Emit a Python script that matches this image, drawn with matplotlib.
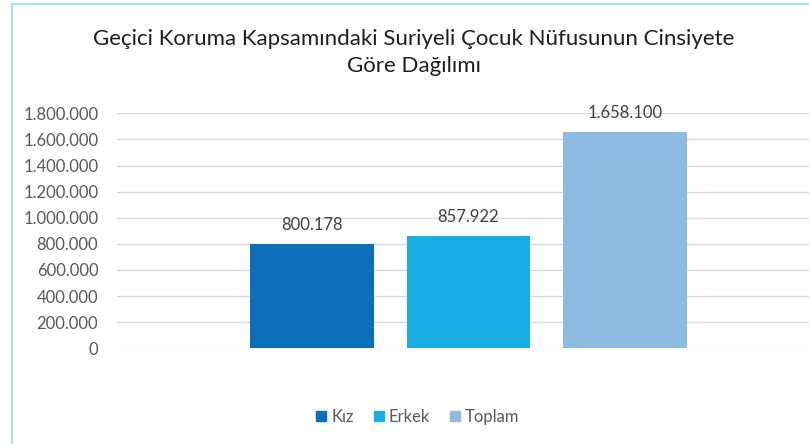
import matplotlib
matplotlib.use("Agg")
import matplotlib.pyplot as plt
from matplotlib.lines import Line2D
from matplotlib.ticker import FuncFormatter, MultipleLocator

plt.rcParams['font.family'] = ['Lato', 'DejaVu Sans']

series = ["Kız", "Erkek", "Toplam"]
values = [800178, 857922, 1658100]
colors = ["#0B6FBA", "#1BAEE5", "#8DBBE1"]
title = "Geçici Koruma Kapsamındaki Suriyeli Çocuk Nüfusunun Cinsiyete\nGöre Dağılımı"

def tr_fmt(v):
    return f"{int(round(v)):,}".replace(",", ".")

W, H = 809, 444
fig = plt.figure(figsize=(W/100, H/100), dpi=100)
fig.patch.set_facecolor("white")

ax = fig.add_axes([117/W, 1-348.3/H, 703/W, (348.3-113.3)/H])
x = [0, 1, 2]
ax.bar(x, values, width=0.786, color=colors, zorder=3)
ax.set_xlim(-1.246, 3.246)
ax.set_ylim(0, 1800000)
ax.yaxis.set_major_locator(MultipleLocator(200000))
ax.yaxis.set_major_formatter(FuncFormatter(lambda v, p: tr_fmt(v)))
ax.grid(axis='y', color="#D9D9D9", linewidth=1.0, zorder=0)
ax.set_xticks([])
for s in ax.spines.values():
    s.set_visible(False)
ax.tick_params(axis='y', length=0, pad=13.5, labelsize=12, labelcolor="#595959")

for xi, v in zip(x, values):
    ax.annotate(tr_fmt(v), (xi, v), xytext=(0, 19), textcoords='offset pixels',
                ha='center', va='center', fontsize=12, color="#404040")

fig.text(414/W, 1-52.5/H, title, ha='center', va='center', fontsize=16,
         color="#1F1F1F", linespacing=1.45)

handles = [Line2D([0], [0], marker='s', linestyle='none', markersize=7,
                  markerfacecolor=c, markeredgecolor=c) for c in colors]
fig.legend(handles, series, loc='center', bbox_to_anchor=(416/W, 1-417/H),
           ncol=3, frameon=False, fontsize=12, labelcolor="#595959",
           handletextpad=0.1, columnspacing=1.0, handlelength=1.0)

# frame lines (light cyan)
fig.add_artist(Line2D([11.5/W, 11.5/W], [0, 1-4.5/H], color="#A8E1EC", linewidth=1.5,
                      transform=fig.transFigure))
fig.add_artist(Line2D([11.5/W, 1], [1-4.5/H, 1-4.5/H], color="#A8E1EC", linewidth=1.5,
                      transform=fig.transFigure))

fig.savefig("out.png", dpi=100)
